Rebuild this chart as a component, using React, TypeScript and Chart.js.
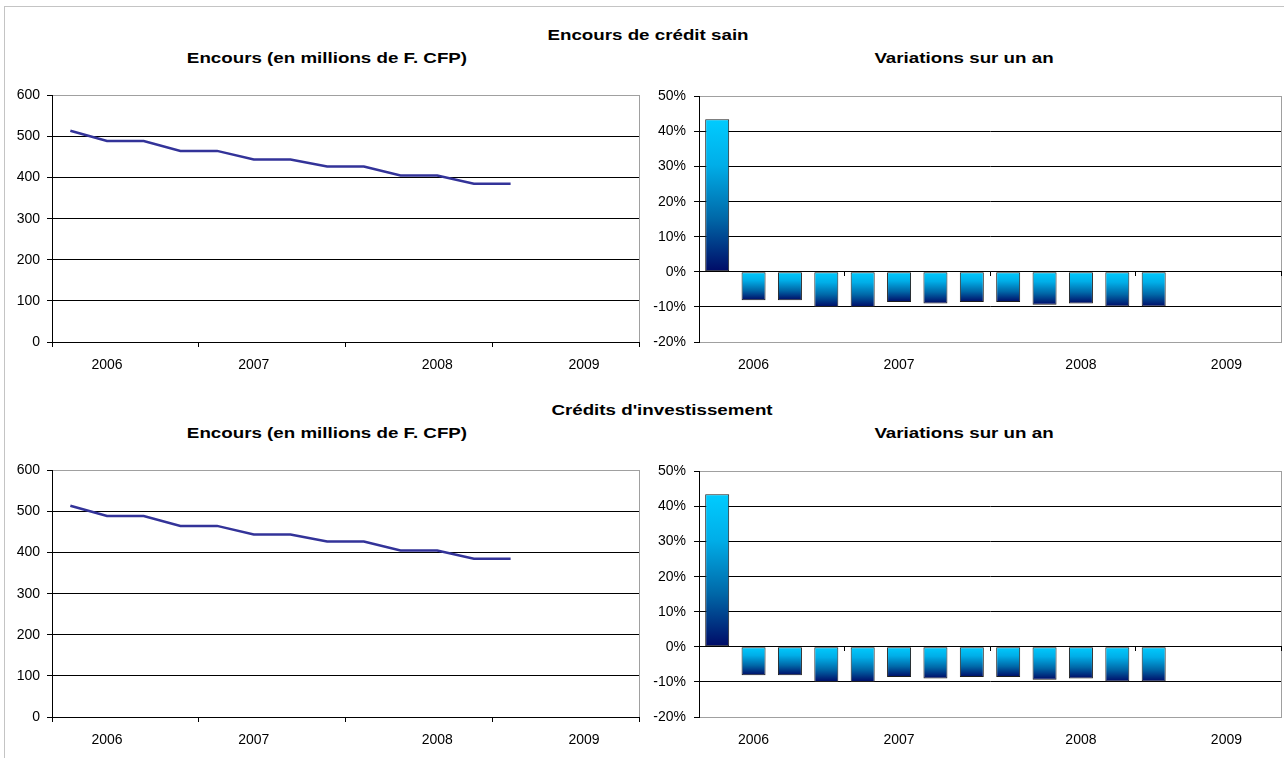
import React, { useEffect, useRef } from 'react';
import { Chart, registerables } from 'chart.js';

Chart.register(...registerables);

// ---- Data ----
// 16 quarterly categories (2006 T1 .. 2009 T4); year labels as shown on the axis
const xTickLabels = ['', '2006', '', '', '', '2007', '', '', '', '', '2008', '', '', '', '2009', ''];

// Encours de crédit sain
const encoursCreditSain = [514, 489, 489, 465, 465, 444, 444, 427, 427, 405, 405, 385, 385];
const variationsCreditSain = [43.5, -8.1, -8.1, -10.0, -10.0, -8.6, -9.0, -8.6, -8.6, -9.4, -9.0, -9.9, -9.9];

// Crédits d'investissement
const encoursInvestissement = [514, 489, 489, 465, 465, 444, 444, 427, 427, 405, 405, 385, 385];
const variationsInvestissement = [43.5, -8.1, -8.1, -10.0, -10.0, -8.6, -9.0, -8.6, -8.6, -9.4, -9.0, -9.9, -9.9];

// Axis ranges
const encoursAxis = { min: 0, max: 600, step: 100 };
const variationAxis = { min: -20, max: 50, step: 10 };

const FONT = "'Liberation Sans', Arial, Helvetica, sans-serif";
const TICK_FONT = { family: FONT, size: 14 };
const TRANSPARENT = 'rgba(0,0,0,0)';

const framePlugin = {
  id: 'plotFrame',
  beforeDraw(chart: any) {
    const { ctx, chartArea: a } = chart;
    if (!a) return;
    ctx.save();
    ctx.strokeStyle = '#a0a0a0';
    ctx.lineWidth = 1;
    ctx.strokeRect(
      Math.round(a.left) + 0.5,
      Math.round(a.top) + 0.5,
      Math.round(a.right - a.left),
      Math.round(a.bottom - a.top)
    );
    ctx.restore();
  },
};

const everyFourthTick = (c: any) =>
  c.type !== 'tick' || c.index % 4 === 0 ? '#000' : TRANSPARENT;

function makeLineConfig(values: number[]) {
  return {
    type: 'line',
    data: {
      labels: xTickLabels,
      datasets: [
        {
          data: values,
          borderColor: '#333399',
          borderWidth: 2.5,
          pointRadius: 0,
          tension: 0,
          fill: false,
        },
      ],
    },
    options: {
      responsive: false,
      animation: false,
      layout: { padding: { left: 0, top: 14, right: 11, bottom: 0 } },
      plugins: { legend: { display: false }, tooltip: { enabled: false } },
      scales: {
        x: {
          type: 'category',
          offset: true,
          grid: {
            offset: true,
            drawOnChartArea: false,
            tickLength: 5,
            tickColor: everyFourthTick,
          },
          border: { color: '#000', width: 1 },
          ticks: { autoSkip: false, maxRotation: 0, color: '#000', font: TICK_FONT, padding: 10 },
          afterFit: (s: any) => {
            s.height = 38;
          },
        },
        y: {
          min: encoursAxis.min,
          max: encoursAxis.max,
          ticks: { stepSize: encoursAxis.step, color: '#000', font: TICK_FONT, padding: 7 },
          grid: {
            color: (c: any) => (c.tick && c.tick.value >= encoursAxis.max ? TRANSPARENT : '#000'),
            tickColor: '#000',
            tickLength: 5,
            lineWidth: 1,
          },
          border: { color: '#000', width: 1 },
          afterFit: (s: any) => {
            s.width = 52;
          },
        },
      },
    },
    plugins: [framePlugin],
  };
}

function barGradient(c: any) {
  const chart = c.chart;
  const y = chart.scales && chart.scales.y;
  if (!chart.chartArea || !y || typeof c.raw !== 'number') return '#0099dd';
  const p0 = y.getPixelForValue(0);
  const p1 = y.getPixelForValue(c.raw);
  const top = Math.min(p0, p1);
  const bot = Math.max(p0, p1);
  const g = chart.ctx.createLinearGradient(0, top, 0, bot + 0.001);
  g.addColorStop(0, '#00CCFF');
  g.addColorStop(0.3, '#00AEE8');
  g.addColorStop(0.65, '#0068A8');
  g.addColorStop(1, '#000A66');
  return g;
}

function makeBarConfig(values: number[]) {
  return {
    type: 'bar',
    data: {
      labels: xTickLabels,
      datasets: [
        {
          data: values,
          backgroundColor: barGradient,
          borderColor: '#1e1e1e',
          borderWidth: 1,
          borderSkipped: false,
          barPercentage: 0.66,
          categoryPercentage: 1,
        },
      ],
    },
    options: {
      responsive: false,
      animation: false,
      layout: { padding: { left: 0, top: 14, right: 3, bottom: 0 } },
      plugins: { legend: { display: false }, tooltip: { enabled: false } },
      scales: {
        x: {
          type: 'category',
          offset: true,
          position: { y: 0 },
          grid: {
            offset: true,
            drawOnChartArea: false,
            tickLength: 4,
            tickColor: everyFourthTick,
          },
          border: { color: '#000', width: 1 },
          ticks: { display: false },
        },
        x2: {
          type: 'category',
          offset: true,
          position: 'bottom',
          grid: { display: false, drawTicks: false },
          border: { display: false },
          ticks: { autoSkip: false, maxRotation: 0, color: '#000', font: TICK_FONT, padding: 15 },
          afterFit: (s: any) => {
            s.height = 38;
          },
        },
        y: {
          min: variationAxis.min,
          max: variationAxis.max,
          ticks: {
            stepSize: variationAxis.step,
            color: '#000',
            font: TICK_FONT,
            padding: 8,
            callback: (v: any) => Math.round(Number(v)) + '%',
          },
          grid: {
            color: (c: any) =>
              c.tick && (c.tick.value >= variationAxis.max || c.tick.value <= variationAxis.min)
                ? TRANSPARENT
                : '#000',
            tickColor: '#000',
            tickLength: 5,
            lineWidth: 1,
          },
          border: { color: '#000', width: 1 },
          afterFit: (s: any) => {
            s.width = 49;
          },
        },
      },
    },
    plugins: [framePlugin],
  };
}

function ChartCanvas(props: { config: any; left: number; top: number; width: number; height: number }) {
  const ref = useRef<HTMLCanvasElement | null>(null);
  useEffect(() => {
    if (!ref.current) return;
    const chart = new Chart(ref.current, props.config);
    return () => chart.destroy();
  }, []);
  return (
    <canvas
      ref={ref}
      width={props.width}
      height={props.height}
      style={{ position: 'absolute', left: props.left, top: props.top, width: props.width, height: props.height, display: 'block' }}
    />
  );
}

function Title(props: { text: string; cx: number; cy: number; size: number }) {
  return (
    <div
      style={{
        position: 'absolute',
        left: props.cx,
        top: props.cy - 9,
        height: 18,
        lineHeight: '18px',
        whiteSpace: 'nowrap',
        fontFamily: FONT,
        fontWeight: 'bold',
        fontSize: props.size,
        color: '#000',
        transform: 'translateX(-50%) scaleX(1.25)',
      }}
    >
      {props.text}
    </div>
  );
}

const SECTION_OFFSET = 375;

export default function App() {
  const sections = [
    { title: 'Encours de crédit sain', titleX: 648, encours: encoursCreditSain, variations: variationsCreditSain },
    { title: "Crédits d'investissement", titleX: 662, encours: encoursInvestissement, variations: variationsInvestissement },
  ];
  return (
    <div
      style={{
        position: 'fixed',
        left: 0,
        top: 0,
        width: 1284,
        height: 758,
        background: '#fff',
        overflow: 'hidden',
      }}
    >
      <div
        style={{
          position: 'absolute',
          left: 4,
          top: 6,
          width: 1300,
          height: 800,
          border: '1px solid #c4c4c4',
        }}
      />
      {sections.map((s, i) => {
        const dy = i * SECTION_OFFSET;
        return (
          <React.Fragment key={i}>
            <Title text={s.title} cx={s.titleX} cy={35 + dy} size={15} />
            <Title text="Encours (en millions de F. CFP)" cx={327} cy={58 + dy} size={15} />
            <Title text="Variations sur un an" cx={964} cy={58 + dy} size={15} />
            <ChartCanvas config={makeLineConfig(s.encours)} left={0} top={80 + dy} width={650} height={300} />
            <ChartCanvas config={makeBarConfig(s.variations)} left={650} top={80 + dy} width={634} height={300} />
          </React.Fragment>
        );
      })}
    </div>
  );
}
